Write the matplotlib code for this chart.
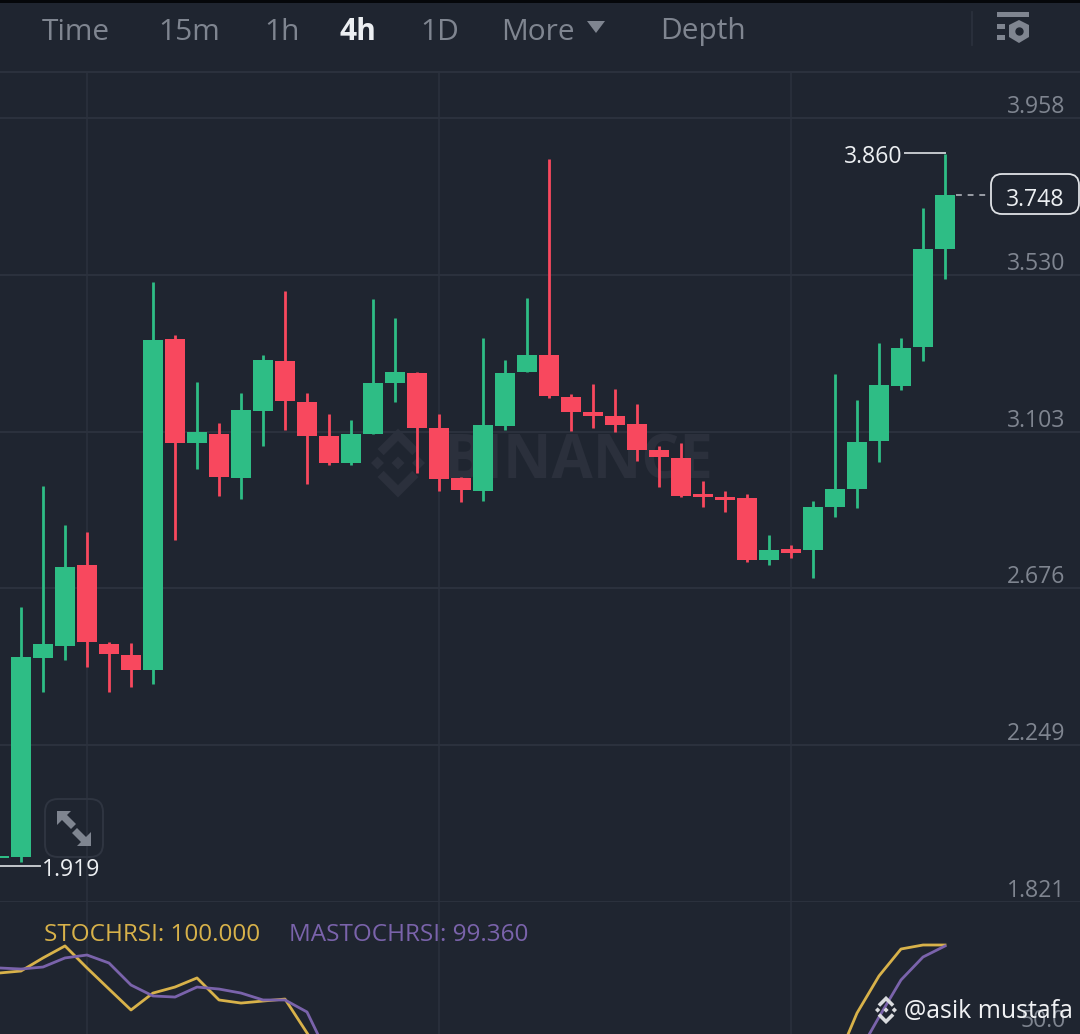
import matplotlib
matplotlib.use("Agg")
import matplotlib.pyplot as plt
import numpy as np
from matplotlib.patches import FancyBboxPatch, Polygon, Rectangle
from matplotlib.transforms import blended_transform_factory

W, H = 1080, 1034

# candles, oldest first
opens = [1.941, 1.944, 2.486, 2.519, 2.740, 2.524, 2.494, 2.453, 3.356, 3.072, 3.097,
         2.977, 3.159, 3.296, 3.184, 3.091, 3.018, 3.097, 3.236, 3.263, 3.113, 2.977,
         2.941, 3.118, 3.266, 3.312, 3.197, 3.157, 3.146, 3.124, 3.053, 3.031, 2.933,
         2.925, 2.922, 2.753, 2.783, 2.780, 2.898, 2.947, 3.078, 3.227, 3.334, 3.601]
highs = [1.982, 2.625, 2.955, 2.849, 2.830, 2.530, 2.527, 3.511, 3.367, 3.238, 3.127,
         3.208, 3.312, 3.486, 3.208, 3.151, 3.135, 3.465, 3.413, 3.266, 3.151, 2.979,
         3.358, 3.298, 3.467, 3.846, 3.206, 3.233, 3.219, 3.178, 3.064, 3.072, 2.969,
         2.941, 2.933, 2.821, 2.794, 2.914, 3.260, 3.189, 3.345, 3.358, 3.713, 3.860]
lows = [1.935, 1.930, 2.393, 2.481, 2.462, 2.393, 2.407, 2.415, 2.808, 3.001, 2.928,
        2.919, 3.064, 3.107, 2.960, 3.012, 3.012, 3.097, 3.184, 2.990, 2.941, 2.911,
        2.914, 3.107, 3.266, 3.195, 3.105, 3.113, 3.102, 3.023, 2.952, 2.925, 2.898,
        2.884, 2.748, 2.740, 2.759, 2.704, 2.870, 2.895, 3.020, 3.217, 3.296, 3.519]
closes = [1.946, 2.489, 2.524, 2.734, 2.530, 2.497, 2.453, 3.353, 3.072, 3.102, 2.979,
          3.162, 3.298, 3.187, 3.091, 3.018, 3.097, 3.236, 3.266, 3.113, 2.974, 2.944,
          3.121, 3.263, 3.312, 3.200, 3.157, 3.146, 3.121, 3.053, 3.034, 2.928, 2.925,
          2.917, 2.753, 2.780, 2.772, 2.898, 2.947, 3.075, 3.230, 3.331, 3.601, 3.748]

price_ticks = [3.958, 3.530, 3.103, 2.676, 2.249, 1.821]
time_grid = [4, 20, 36]

# oscillator, nan where it runs off the bottom of the pane
nan = float("nan")
stoch = [81.8, 83.1, 91.6, 99.4, 85.1, 71.4, 57.8, 68.8, 72.7, 78.6, 64.3, 62.3, 63.6, 64.9,
         42.9, 21.0] + [nan] * 22 + [22.0, 55.8, 79.9, 97.4, 100.0, 100.0]
ma_stoch = [85.1, 84.4, 85.7, 91.6, 93.5, 88.3, 74.0, 66.9, 66.2, 72.7, 71.4, 68.8, 64.3, 64.3,
            56.5, 27.0] + [nan] * 23 + [28.0, 53.2, 77.3, 92.2, 99.36]

toolbar_labels = ["Time", "15m", "1h", "4h", "1D", "More", "Depth"]
toolbar_x = [42, 158, 264, 340, 420, 501, 660]

BG = "#1f2530"
GRID = "#2c323e"
GREEN = "#2ebd85"
RED = "#f8485e"
GREY = "#7f8590"
LIGHT = "#eceff2"
YELLOW = "#d8b24a"
PURPLE = "#7a63ab"
FONT = "Open Sans"

plt.rcParams["font.family"] = [FONT, "DejaVu Sans"]


def px_axes(fig, left, top, right, bottom):
    return fig.add_axes([left / W, 1 - bottom / H, (right - left) / W, (bottom - top) / H])


def logo(ax, cx, cy, r, color):
    # binance mark: centre and side diamonds plus two chevrons
    def diamond(x, y, s):
        ax.add_patch(Polygon([(x - s, y), (x, y - s), (x + s, y), (x, y + s)], fc=color, ec="none"))
    diamond(cx, cy, r * 0.24)
    diamond(cx - r * 0.76, cy, r * 0.24)
    diamond(cx + r * 0.76, cy, r * 0.24)
    for sign in (-1, 1):
        ax.add_patch(Polygon([(cx - r * 0.53, cy + sign * r * 0.29),
                              (cx, cy + sign * r * 0.82),
                              (cx + r * 0.53, cy + sign * r * 0.29),
                              (cx + r * 0.76, cy + sign * r * 0.52),
                              (cx, cy + sign * r * 1.28),
                              (cx - r * 0.76, cy + sign * r * 0.52)], fc=color, ec="none"))


fig = plt.figure(figsize=(W / 100, H / 100), dpi=100, facecolor=BG)

# slot i sits at pixel 22 * i - 1
xlim = (1 / 22, (W + 1) / 22)

# pixel overlay under the candles for watermark
back = px_axes(fig, 0, 0, W, H)
back.set_xlim(0, W)
back.set_ylim(H, 0)
back.axis("off")
back.set_zorder(1)
logo(back, 398, 463, 27, "#2b303c")
back.text(444, 463, "BINANCE", color="#2b303c", fontsize=43, fontweight="bold", va="center", ha="left")

# price pane
ax = px_axes(fig, 0, 72, W, 902)
ax.set_zorder(2)
ax.patch.set_alpha(0)
ax.set_xlim(*xlim)
ax.set_ylim(1.821, 4.0833)
ax.axis("off")

for p in price_ticks:
    ax.axhline(p, color=GRID, lw=1.4, zorder=1)
for t in time_grid:
    ax.axvline(t, color=GRID, lw=1.1, zorder=1)

idx = np.arange(len(opens))
o = np.array(opens)
c = np.array(closes)
colors = [GREEN if b >= a else RED for a, b in zip(opens, closes)]
ax.vlines(idx, lows, highs, colors=colors, lw=2.0, zorder=3)
ax.bar(idx, np.maximum(np.abs(c - o), 0.003), bottom=np.minimum(o, c), width=0.88,
       color=colors, zorder=4, linewidth=0)

ytrans = blended_transform_factory(fig.transFigure, ax.transData)
for p in price_ticks:
    ax.annotate(f"{p:.3f}", xy=(1065 / W, p), xycoords=ytrans, xytext=(0, 8), textcoords="offset points",
                ha="right", va="center", color=GREY, fontsize=16.6)

# oscillator pane
osc = px_axes(fig, 0, 902, W, H)
osc.set_zorder(2)
osc.patch.set_alpha(0)
osc.set_xlim(*xlim)
osc.set_ylim(50 - 12 / 1.54, 50 + 120 / 1.54)
osc.axis("off")
for t in time_grid:
    osc.axvline(t, color=GRID, lw=1.1, zorder=1)
osc_x = np.arange(len(stoch))
osc.plot(osc_x, stoch, color=YELLOW, lw=2.0, zorder=3)
osc.plot(osc_x, ma_stoch, color=PURPLE, lw=2.0, zorder=4)

# pixel overlay for toolbar, callouts and icons
top = px_axes(fig, 0, 0, W, H)
top.set_xlim(0, W)
top.set_ylim(H, 0)
top.axis("off")
top.set_zorder(5)

top.add_patch(Rectangle((0, 0), W, 3, fc="#05070a", ec="none"))
top.plot([0, W], [72, 72], color=GRID, lw=1.4)
for label, x in zip(toolbar_labels, toolbar_x):
    active = label == "4h"
    top.text(x, 32, label, color=LIGHT if active else GREY, fontsize=21.5,
             fontweight="bold" if active else "normal", ha="left", va="center")
top.add_patch(Polygon([(587, 21), (605, 21), (596, 33)], fc=GREY, ec="none"))

# settings icon
top.plot([972, 972], [12, 45], color=GRID, lw=1.2)
top.add_patch(Rectangle((997, 12), 32, 5, fc=GREY, ec="none"))
top.add_patch(Rectangle((997, 24), 8, 5, fc=GREY, ec="none"))
top.add_patch(Rectangle((997, 35), 8, 5, fc=GREY, ec="none"))
top.add_patch(Polygon([(1019, 20), (1029, 25), (1029, 37), (1019, 43), (1009, 37), (1009, 25)], fc=GREY, ec="none"))
top.plot([1019], [31], "o", ms=5, color=BG)

# high and low callouts
top.text(873, 157, "3.860", color=LIGHT, fontsize=16.6, ha="center", va="center")
top.plot([905, 945], [153, 153], color="#c3c7cc", lw=1.4)
top.text(71, 870, "1.919", color=LIGHT, fontsize=16.6, ha="center", va="center")
top.plot([0, 40], [866, 866], color="#c3c7cc", lw=1.4)

# last price tag
top.plot([956, 991], [195, 195], color="#9a9ea6", lw=1.4, dashes=(3, 3))
top.add_patch(FancyBboxPatch((997, 180), 76, 28, boxstyle="round,pad=6,rounding_size=11",
                             fc=BG, ec="#dfe2e6", lw=1.3))
top.text(1035, 200, "3.748", color=LIGHT, fontsize=16.6, ha="center", va="center")

# expand button
top.add_patch(FancyBboxPatch((53, 807), 42, 42, boxstyle="round,pad=8,rounding_size=13",
                             fc="none", ec="#2f3541", lw=1.4))
top.add_patch(Polygon([(57, 811), (71, 811), (67, 815), (76, 824), (71, 829), (62, 820), (57, 825)],
                      fc=GREY, ec="none"))
top.add_patch(Polygon([(91, 846), (77, 846), (81, 842), (72, 833), (77, 828), (86, 837), (91, 832)],
                      fc=GREY, ec="none"))

# indicator legend
top.text(44, 935, "STOCHRSI: 100.000", color=YELLOW, fontsize=17.5, ha="left", va="center")
top.text(289, 935, "MASTOCHRSI: 99.360", color=PURPLE, fontsize=17.5, ha="left", va="center")

# pane label and screenshot credit
top.text(1066, 1021, "50.0", color=GREY, fontsize=16.6, ha="right", va="center")
logo(top, 886, 1010, 11, "#d9dbde")
top.text(904, 1012, "@asik mustafa", color="#f1f2f4", fontsize=17.9, ha="left", va="center")

fig.savefig("out.png", dpi=100, facecolor=BG)
